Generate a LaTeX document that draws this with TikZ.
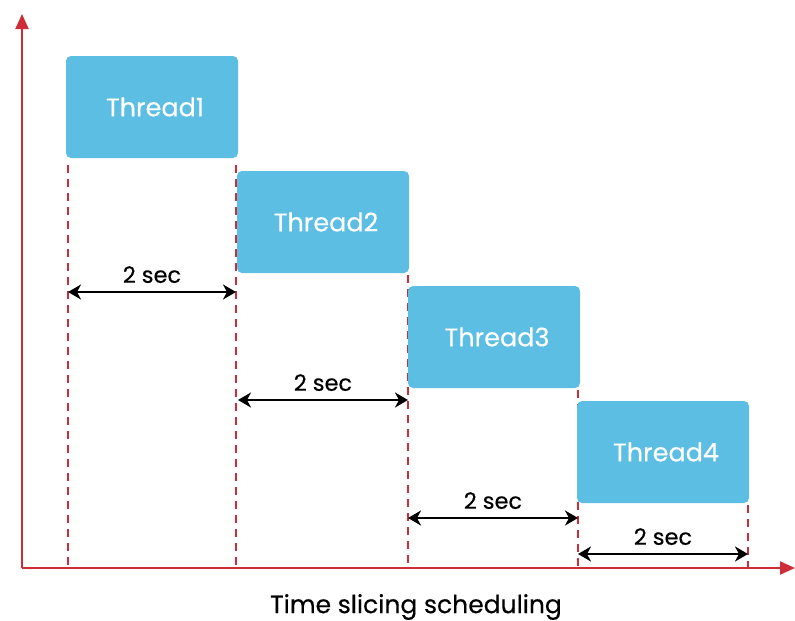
\documentclass[tikz,border=0pt]{standalone}
\usepackage{fontspec}
\setmainfont{Poppins}[FakeBold=0.35]
\usetikzlibrary{arrows.meta,positioning,calc}
\definecolor{threadblue}{RGB}{93,190,227}
\definecolor{axisred}{RGB}{206,45,55}
\tikzset{
  thread/.style={fill=threadblue, rounded corners=5pt, minimum width=172pt,
    minimum height=102pt, inner sep=0pt, text=white, font=\fontsize{25.5}{30}\selectfont},
  slice/.style={axisred, line width=1.5pt, dash pattern=on 8pt off 6pt},
  axis/.style={axisred, line width=2pt, -{Triangle[length=15pt,width=13pt]}},
  span/.style={{Stealth[length=13pt,width=15pt,inset=4pt]}-{Stealth[length=13pt,width=15pt,inset=4pt]}, line width=2pt},
  secs/.style={font=\fontsize{22.5}{26}\selectfont, inner sep=2pt}
}

\begin{document}
\begin{tikzpicture}[x=1pt, y=-1pt]
  \useasboundingbox (0,0) rectangle (795,621);
  % Axes
  \coordinate (origin) at (22,568);
  \coordinate (ytop) at (22,14);
  \coordinate (xend) at (795,568);
  \draw[axis] (origin) -- (ytop);
  \draw[axis] (origin) -- (xend);
  % Slice boundaries
  \foreach \x/\y in {68/165, 236/165, 408/275, 578/390, 748/505} {
    \draw[slice] (\x,\y) -- (\x,567);
  }
  % Threads
  \foreach \i/\x/\y in {1/152/107, 2/323/222, 3/494/337, 4/663/452} {
    \node[thread] (t\i) at (\x,\y) {\hspace{6pt}Thread\i};
  }
  % Time spans
  \foreach \a/\b/\y [count=\k] in {68/236/292, 238/408/400, 408/578/518, 578/748/554} {
    \coordinate (s\k) at (\a,\y);
    \coordinate (e\k) at (\b,\y);
    \draw[span] (s\k) -- node[above=6pt, secs] {2 sec} (e\k);
  }
  % Caption
  \node[font=\fontsize{25}{30}\selectfont] (caption) at (416,607) {Time slicing scheduling};
\end{tikzpicture}
\end{document}
